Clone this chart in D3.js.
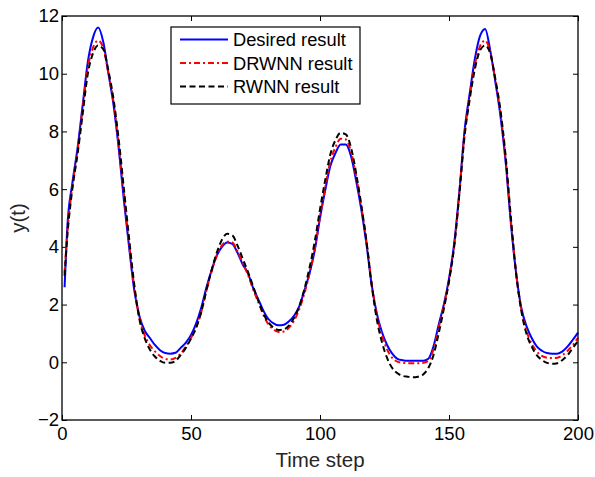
<!DOCTYPE html>
<html>
<head>
<meta charset="utf-8">
<script src="https://cdn.jsdelivr.net/npm/d3@7"></script>
<style>
  body { margin: 0; background: #fff; }
  svg { display: block; font-family: "Liberation Sans", Arial, sans-serif; }
</style>
</head>
<body>
<svg id="chart" width="595" height="477"></svg>
<script>
// time steps (1, then every 2 steps up to 200)
var steps = [1].concat(d3.range(2, 201, 2));

var desired = [2.6,
  4.6, 6.2, 7.4, 8.9, 10.4, 11.25, 11.6, 11.1, 10.0, 8.9,
  7.4, 5.6, 4.0, 2.5, 1.6, 1.1, 0.85, 0.6, 0.42, 0.32,
  0.3, 0.33, 0.5, 0.68, 0.95, 1.35, 1.9, 2.6, 3.2, 3.7,
  4.0, 4.15, 4.1, 3.8, 3.4, 3.1, 2.6, 2.2, 1.8, 1.5,
  1.35, 1.28, 1.3, 1.42, 1.62, 1.95, 2.5, 3.1, 3.9, 5.0,
  5.95, 6.8, 7.25, 7.55, 7.55, 7.15, 6.3, 5.3, 4.1, 2.7,
  1.7, 1.05, 0.6, 0.3, 0.12, 0.07, 0.05, 0.05, 0.05, 0.05,
  0.12, 0.55, 1.3, 2.0, 2.9, 4.1, 5.9, 8.0, 9.3, 10.5,
  11.3, 11.55, 10.8, 9.7, 8.5, 6.9, 4.8, 3.1, 1.9, 1.26,
  0.85, 0.55, 0.4, 0.32, 0.3, 0.3, 0.38, 0.55, 0.78, 1.03];

var drwnn = [3.1,
  4.4, 6.1, 7.3, 8.8, 10.2, 10.9, 11.15, 10.9, 10.0, 9.0,
  7.5, 5.8, 4.1, 2.6, 1.55, 0.95, 0.6, 0.38, 0.22, 0.12,
  0.1, 0.15, 0.3, 0.55, 0.85, 1.2, 1.75, 2.5, 3.15, 3.7,
  4.05, 4.18, 4.15, 3.85, 3.45, 3.05, 2.55, 2.1, 1.65, 1.32,
  1.13, 1.05, 1.07, 1.2, 1.45, 1.85, 2.4, 3.1, 3.95, 5.05,
  6.05, 6.95, 7.45, 7.75, 7.72, 7.3, 6.45, 5.4, 4.2, 2.75,
  1.65, 0.95, 0.45, 0.15, 0.02, -0.02, -0.03, -0.03, -0.03, -0.02,
  0.05, 0.45, 1.2, 1.95, 2.85, 4.05, 5.85, 7.9, 9.2, 10.3,
  10.95, 11.15, 10.75, 9.75, 8.6, 7.0, 4.9, 3.1, 1.85, 1.1,
  0.65, 0.38, 0.22, 0.16, 0.15, 0.16, 0.25, 0.4, 0.6, 0.85];

var rwnn = [3.0,
  4.3, 6.0, 7.2, 8.6, 10.0, 10.7, 10.98, 10.85, 10.1, 9.1,
  7.7, 6.0, 4.3, 2.7, 1.5, 0.85, 0.45, 0.2, 0.05, -0.02,
  -0.02, 0.05, 0.25, 0.5, 0.82, 1.2, 1.75, 2.5, 3.2, 3.8,
  4.25, 4.45, 4.4, 4.05, 3.6, 3.15, 2.65, 2.15, 1.7, 1.38,
  1.2, 1.12, 1.14, 1.28, 1.55, 1.95, 2.55, 3.3, 4.2, 5.3,
  6.3, 7.2, 7.7, 7.95, 7.9, 7.45, 6.55, 5.45, 4.2, 2.7,
  1.5, 0.7, 0.15, -0.2, -0.38, -0.47, -0.5, -0.52, -0.5, -0.42,
  -0.2, 0.25, 1.0, 1.85, 2.8, 4.0, 5.8, 7.8, 9.1, 10.15,
  10.8, 10.98, 10.7, 9.8, 8.7, 7.1, 5.0, 3.1, 1.8, 1.0,
  0.55, 0.25, 0.08, -0.02, -0.05, -0.03, 0.08, 0.25, 0.5, 0.74];

var seriesNames = ["Desired result", "DRWNN result", "RWNN result"];
var xTicks = [0, 50, 100, 150, 200];
var yTicks = [-2, 0, 2, 4, 6, 8, 10, 12];

var colors = ["#0000ff", "#ff0000", "#000000"];
var dashes = [null, "6,3,2,3", "6,3.5"];

var svg = d3.select("#chart");
var m = {left: 62, right: 578, top: 16, bottom: 420};

var x = d3.scaleLinear().domain([0, 200]).range([m.left, m.right]);
var y = d3.scaleLinear().domain([-2, 12]).range([m.bottom, m.top]);

// axes, ticks pointing inward like matlab
var bottomAxis = d3.axisBottom(x).tickValues(xTicks).tickSizeInner(-5).tickSizeOuter(0).tickPadding(7);
var leftAxis = d3.axisLeft(y).tickValues(yTicks).tickSizeInner(-5).tickSizeOuter(0).tickPadding(3);
var topAxis = d3.axisTop(x).tickValues(xTicks).tickSizeInner(-5).tickSizeOuter(0).tickFormat("");
var rightAxis = d3.axisRight(y).tickValues(yTicks).tickSizeInner(-5).tickSizeOuter(0).tickFormat("");

function styleAxis(g) {
  g.select(".domain").remove();
  g.selectAll(".tick line").attr("stroke", "#000").attr("stroke-width", 1);
  g.selectAll(".tick text").attr("fill", "#000").style("font-size", "18.5px");
}

svg.append("g").attr("transform", "translate(0," + m.bottom + ")").call(bottomAxis).call(styleAxis);
svg.append("g").attr("transform", "translate(" + m.left + ",0)").call(leftAxis).call(styleAxis);
svg.append("g").attr("transform", "translate(0," + m.top + ")").call(topAxis).call(styleAxis);
svg.append("g").attr("transform", "translate(" + m.right + ",0)").call(rightAxis).call(styleAxis);

// series lines
var allSeries = [desired, drwnn, rwnn];
var line = d3.line()
  .x(function(d, i) { return x(steps[i]); })
  .y(function(d) { return y(d); })
  .curve(d3.curveMonotoneX);

var plot = svg.append("g");
allSeries.forEach(function(vals, k) {
  plot.append("path")
    .datum(vals)
    .attr("fill", "none")
    .attr("stroke", colors[k])
    .attr("stroke-width", 2)
    .attr("stroke-linejoin", "round")
    .attr("stroke-dasharray", dashes[k])
    .attr("d", line);
});

// frame
svg.append("rect")
  .attr("x", m.left).attr("y", m.top)
  .attr("width", m.right - m.left).attr("height", m.bottom - m.top)
  .attr("fill", "none").attr("stroke", "#000").attr("stroke-width", 1.3);

// axis labels
svg.append("text")
  .attr("x", (m.left + m.right) / 2).attr("y", 467)
  .attr("text-anchor", "middle")
  .attr("fill", "#262626")
  .style("font-size", "20.5px")
  .text("Time step");

svg.append("text")
  .attr("transform", "translate(25," + ((m.top + m.bottom) / 2) + ")rotate(-90)")
  .attr("text-anchor", "middle")
  .attr("fill", "#262626")
  .style("font-size", "20.5px")
  .text("y(t)");

// legend
var legend = svg.append("g").attr("transform", "translate(171,27)");
legend.append("rect")
  .attr("width", 189).attr("height", 77)
  .attr("fill", "#fff").attr("stroke", "#000").attr("stroke-width", 1.2);

seriesNames.forEach(function(name, k) {
  var ly = 12.5 + k * 23.5;
  legend.append("line")
    .attr("x1", 9).attr("x2", 57)
    .attr("y1", ly).attr("y2", ly)
    .attr("stroke", colors[k])
    .attr("stroke-width", 2)
    .attr("stroke-dasharray", dashes[k]);
  legend.append("text")
    .attr("x", 62).attr("y", ly)
    .attr("dy", "0.36em")
    .attr("fill", "#000")
    .style("font-size", "18.3px")
    .text(name);
});
</script>
</body>
</html>
